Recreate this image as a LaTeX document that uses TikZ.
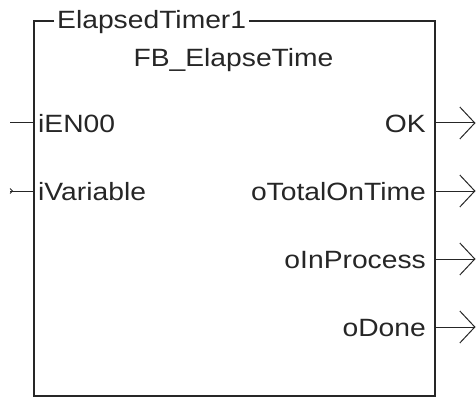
\documentclass[tikz,border=0pt]{standalone}
\usepackage{fontspec}
\setmainfont[FakeStretch=1.13]{Liberation Sans}
\usetikzlibrary{arrows.meta}
\begin{document}
\begin{tikzpicture}[x=1pt, y=-1pt,
  boxline/.style={line width=2pt, draw=black!85},
  pinline/.style={line width=1pt, draw=black!85},
  outpin/.style={pinline, -{Straight Barb[length=15pt, width=32pt]}},
  pinlabel/.style={inner sep=0pt, font=\fontsize{25}{30}\selectfont, text=black!85}
  ]
  \useasboundingbox (0,0) rectangle (476,398);
  \coordinate (nw) at (34,21);
  \coordinate (se) at (435,395.5);
  % instance name sits in the top edge
  \node[pinlabel, anchor=base west, inner xsep=3pt] (title) at (54,28.5) {ElapsedTimer1};
  \node[pinlabel, anchor=base] (fbtype) at (233.5,66.5) {FB\_ElapseTime};
  \draw[boxline] (title.west |- nw) -- (nw) |- (se) |- (title.east |- nw);
  % inputs
  \node[pinlabel, anchor=base west] (iEN) at (38,132.5) {iEN00};
  \node[pinlabel, anchor=base west] (iVar) at (38,200.5) {iVariable};
  \coordinate (iENend) at (10,123);
  \coordinate (iVarend) at (10,191);
  \draw[pinline] (iENend) -- (iENend -| nw);
  \draw[pinline] (iVarend) -- (iVarend -| nw);
  \draw[pinline, line width=0.8pt] ([yshift=-2.5pt]iVarend) -- ([xshift=2.5pt]iVarend) -- ([yshift=2.5pt]iVarend);
  % outputs
  \node[pinlabel, anchor=base east] (oOK) at (426,132.5) {OK};
  \node[pinlabel, anchor=base east] (oTotal) at (426,200.5) {oTotalOnTime};
  \node[pinlabel, anchor=base east] (oProc) at (426,268.5) {oInProcess};
  \node[pinlabel, anchor=base east] (oDone) at (426,336.5) {oDone};
  \coordinate (oOKend) at (475.5,123);
  \coordinate (oTotalend) at (475.5,191);
  \coordinate (oProcend) at (475.5,259);
  \coordinate (oDoneend) at (475.5,327);
  \draw[outpin] (oOKend -| se) -- (oOKend);
  \draw[outpin] (oTotalend -| se) -- (oTotalend);
  \draw[outpin] (oProcend -| se) -- (oProcend);
  \draw[outpin] (oDoneend -| se) -- (oDoneend);
\end{tikzpicture}
\end{document}
